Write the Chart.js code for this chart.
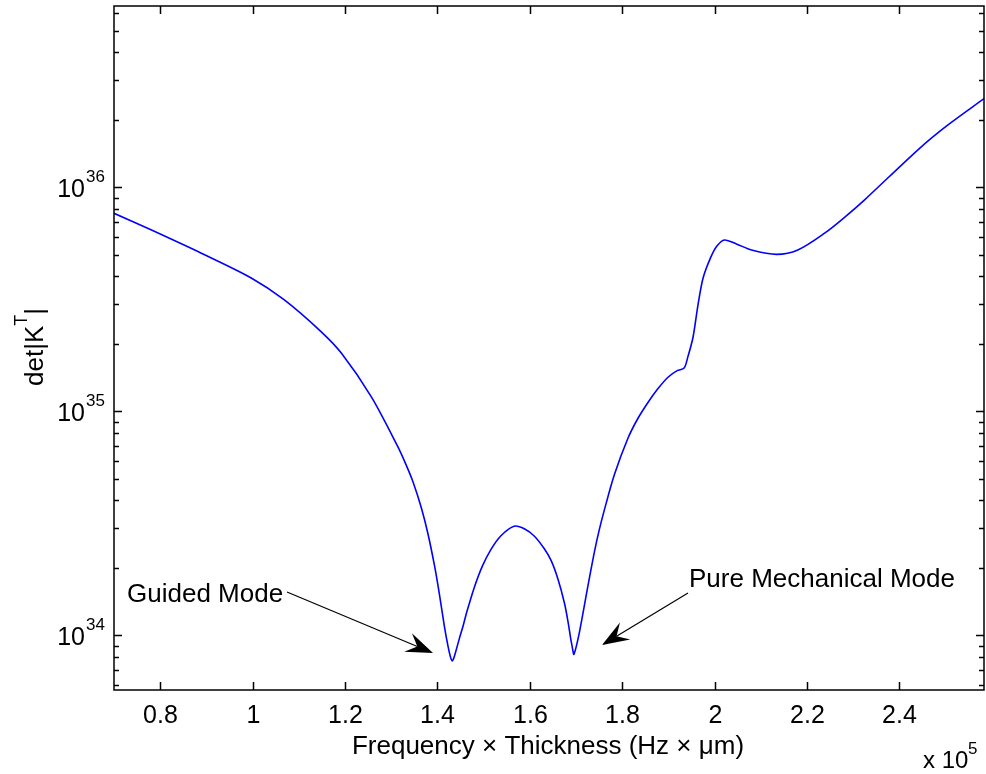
<!DOCTYPE html>
<html>
<head>
<meta charset="utf-8">
<script src="https://cdn.jsdelivr.net/npm/chart.js@4.4.1/dist/chart.umd.min.js"></script>
<style>
  html, body { margin: 0; padding: 0; background: #fff; }
  #wrap { width: 986px; height: 774px; position: relative; }
</style>
</head>
<body>
<div id="wrap"><canvas id="detChart" width="986" height="774"></canvas></div>
<script>
// frequency x thickness, in units of 1e5 Hz·µm
const freqThick = [
  0.700, 0.780, 0.889, 0.997, 1.068, 1.148, 1.192, 1.257, 1.314, 1.332,
  1.348, 1.365, 1.379, 1.394, 1.404, 1.415, 1.423, 1.428, 1.432, 1.436,
  1.441, 1.447, 1.456, 1.464, 1.480, 1.497, 1.516, 1.538, 1.566, 1.588,
  1.610, 1.631, 1.646, 1.661, 1.675, 1.683, 1.688, 1.692, 1.695, 1.6981,
  1.7015, 1.7063, 1.7121, 1.7186, 1.7284, 1.7398, 1.750, 1.7615, 1.7831, 1.8121,
  1.8338, 1.855, 1.877, 1.899, 1.919, 1.934, 1.942, 1.953, 1.964, 1.975,
  1.992, 2.005, 2.021, 2.047, 2.080, 2.134, 2.180, 2.238, 2.283, 2.324,
  2.443, 2.505, 2.583
];
// |det K^T|
const detK = [
  7.66e35, 6.46e35, 5.08e35, 3.94e35, 3.15e35, 2.27e35, 1.82e35, 1.16e35, 6.97e34, 5.78e34,
  4.79e34, 3.72e34, 2.87e34, 2.03e34, 1.54e34, 1.10e34, 8.92e33, 8.05e33, 7.69e33, 7.97e33,
  8.65e33, 9.59e33, 1.11e34, 1.28e34, 1.64e34, 2.03e34, 2.42e34, 2.79e34, 3.07e34, 2.99e34,
  2.77e34, 2.44e34, 2.16e34, 1.78e34, 1.39e34, 1.14e34, 9.79e33, 8.83e33, 8.22e33, 8.54e33,
  9.09e33, 1.008e34, 1.164e34, 1.379e34, 1.777e34, 2.36e34, 2.94e34, 3.64e34, 5.22e34, 7.56e34,
  9.29e34, 1.09e35, 1.26e35, 1.42e35, 1.52e35, 1.56e35, 1.75e35, 2.13e35, 2.99e35, 3.94e35,
  4.89e35, 5.47e35, 5.82e35, 5.59e35, 5.25e35, 5.02e35, 5.25e35, 6.24e35, 7.40e35, 8.77e35,
  1.49e36, 1.90e36, 2.49e36
];
const xTicks = [0.8, 1, 1.2, 1.4, 1.6, 1.8, 2, 2.2, 2.4];
const yDecades = [34, 35, 36];
const xLimits = [0.7, 2.583];
const yLimits = [5.7e33, 6.45e36];

const FONT = '"Liberation Sans", Arial, Helvetica, sans-serif';

function arrow(ctx, x0, y0, x1, y1) {
  const dx = x1 - x0, dy = y1 - y0;
  const len = Math.hypot(dx, dy);
  const ux = dx / len, uy = dy / len;
  const nx = -uy, ny = ux;
  const L = 27, W = 10, notch = 17;
  ctx.beginPath();
  ctx.moveTo(x0, y0);
  ctx.lineTo(x1 - ux * notch, y1 - uy * notch);
  ctx.stroke();
  ctx.beginPath();
  ctx.moveTo(x1, y1);
  ctx.lineTo(x1 - ux * L + nx * W, y1 - uy * L + ny * W);
  ctx.lineTo(x1 - ux * notch, y1 - uy * notch);
  ctx.lineTo(x1 - ux * L - nx * W, y1 - uy * L - ny * W);
  ctx.closePath();
  ctx.fill();
}

const matlabAxes = {
  id: 'matlabAxes',
  afterDraw(chart) {
    const {ctx, chartArea: a, scales: {x, y}} = chart;
    ctx.save();
    ctx.strokeStyle = '#000';
    ctx.fillStyle = '#000';
    ctx.lineWidth = 1.5;
    ctx.strokeRect(a.left, a.top, a.right - a.left, a.bottom - a.top);

    // x ticks, bottom and top, inward
    ctx.font = '25px ' + FONT;
    ctx.textAlign = 'center';
    ctx.textBaseline = 'alphabetic';
    xTicks.forEach(v => {
      const px = Math.round(x.getPixelForValue(v)) + 0.5;
      ctx.beginPath();
      ctx.moveTo(px, a.bottom); ctx.lineTo(px, a.bottom - 8);
      ctx.moveTo(px, a.top); ctx.lineTo(px, a.top + 8);
      ctx.stroke();
      ctx.fillText(String(v), px, a.bottom + 33);
    });

    // y ticks on the log axis: majors at decades, minors at 2..9
    for (let d = 33; d <= 36; d++) {
      for (let m = 1; m <= 9; m++) {
        const v = m * Math.pow(10, d);
        if (v < yLimits[0] || v > yLimits[1]) continue;
        const py = Math.round(y.getPixelForValue(v)) + 0.5;
        const len = m === 1 ? 8 : 5;
        ctx.beginPath();
        ctx.moveTo(a.left, py); ctx.lineTo(a.left + len, py);
        ctx.moveTo(a.right, py); ctx.lineTo(a.right - len, py);
        ctx.stroke();
      }
    }
    yDecades.forEach(d => {
      const py = y.getPixelForValue(Math.pow(10, d));
      ctx.font = '25px ' + FONT;
      ctx.textAlign = 'right';
      ctx.fillText('10', 85, py + 10);
      ctx.font = '17px ' + FONT;
      ctx.textAlign = 'left';
      ctx.fillText(String(d), 86, py - 5);
    });

    // axis titles
    ctx.font = '26px ' + FONT;
    ctx.textAlign = 'center';
    ctx.fillText('Frequency \u00d7 Thickness (Hz \u00d7 \u03bcm)', 548, 754);

    ctx.textAlign = 'left';
    ctx.font = '24px ' + FONT;
    ctx.fillText('x 10', 923, 768);
    ctx.font = '17px ' + FONT;
    ctx.fillText('5', 968, 754);

    // det|K^T| along the left side
    ctx.save();
    ctx.translate(43, 347);
    ctx.rotate(-Math.PI / 2);
    ctx.font = '26px ' + FONT;
    const w1 = ctx.measureText('det|K').width;
    ctx.font = '18px ' + FONT;
    const w2 = ctx.measureText('T').width;
    ctx.font = '26px ' + FONT;
    const w3 = ctx.measureText('|').width;
    const sx = -(w1 + w2 + w3) / 2;
    ctx.textAlign = 'left';
    ctx.fillText('det|K', sx, 0);
    ctx.font = '18px ' + FONT;
    ctx.fillText('T', sx + w1, -16);
    ctx.font = '26px ' + FONT;
    ctx.fillText('|', sx + w1 + w2, 0);
    ctx.restore();

    // mode labels with arrows
    ctx.font = '26px ' + FONT;
    ctx.textAlign = 'left';
    ctx.fillText('Guided Mode', 127, 602);
    ctx.fillText('Pure Mechanical Mode', 689, 587);
    ctx.lineWidth = 1.2;
    arrow(ctx, 287, 592, 433, 653);
    arrow(ctx, 688, 593, 602, 645);
    ctx.restore();
  }
};

new Chart(document.getElementById('detChart'), {
  type: 'line',
  data: {
    datasets: [{
      data: freqThick.map((f, i) => ({x: f, y: detK[i]})),
      borderColor: '#0000ff',
      borderWidth: 1.6,
      pointRadius: 0,
      fill: false,
      tension: 0.3
    }]
  },
  options: {
    responsive: false,
    animation: false,
    devicePixelRatio: 1,
    layout: {padding: {left: 114, top: 6, right: 2, bottom: 84}},
    plugins: {legend: {display: false}, tooltip: {enabled: false}},
    scales: {
      x: {type: 'linear', min: xLimits[0], max: xLimits[1], display: false},
      y: {type: 'logarithmic', min: yLimits[0], max: yLimits[1], display: false}
    }
  },
  plugins: [matlabAxes]
});
</script>
</body>
</html>
